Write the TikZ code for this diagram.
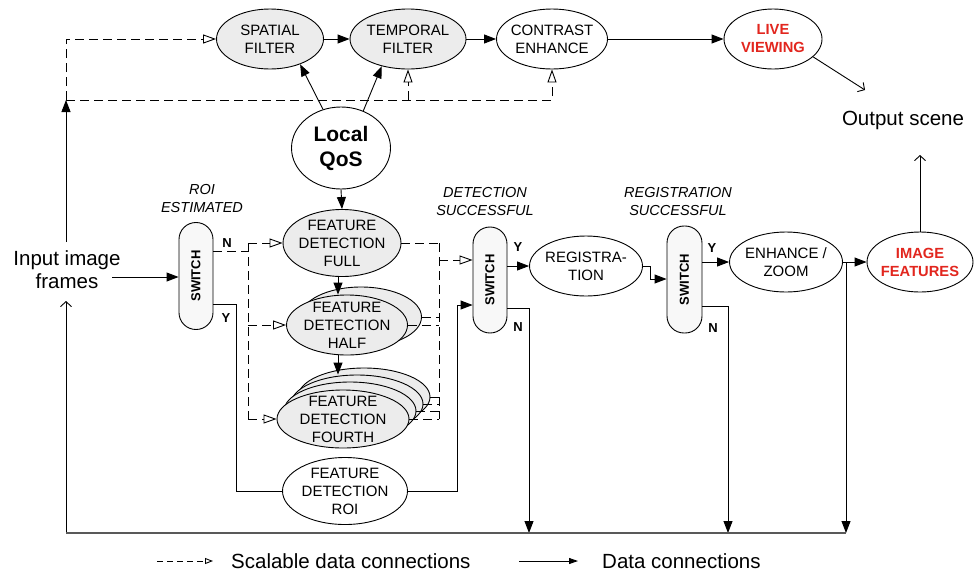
\documentclass[tikz,border=0pt]{standalone}
\usepackage{fontspec}
\setmainfont{Liberation Sans}
\usetikzlibrary{shapes.geometric,arrows.meta,calc}
\definecolor{hlred}{RGB}{226,38,30}
\definecolor{procfill}{RGB}{236,236,236}
\definecolor{swfill}{RGB}{248,248,248}
\begin{document}
\begin{tikzpicture}[x=1pt,y=-1pt,
  every node/.style={inner sep=0pt},
  proc/.style={ellipse, draw, line width=0.9pt, fill=white},
  grayproc/.style={proc, fill=procfill},
  switchbox/.style={draw, line width=0.9pt, fill=swfill, rounded corners=16.9pt,
    minimum width=34pt, minimum height=107pt,
    label={[font=\bfseries\fontsize{13}{13}\selectfont, rotate=90]center:SWITCH}},
  nodetext/.style={font=\fontsize{15}{18}\selectfont, align=center},
  redtext/.style={font=\bfseries\fontsize{14.7}{18}\selectfont, align=center, text=hlred},
  condtext/.style={font=\itshape\fontsize{14.5}{18}\selectfont, align=center},
  yntext/.style={font=\bfseries\fontsize{13}{13}\selectfont},
  bigtext/.style={font=\fontsize{20.5}{23}\selectfont, align=center},
  pline/.style={line width=0.9pt},
  dline/.style={line width=0.9pt, dash pattern=on 9pt off 5pt},
  data/.style={pline, -{Triangle[length=12pt,width=9pt]}},
  scal/.style={dline, -{Triangle[open,length=13pt,width=9pt]}},
  outarrow/.style={pline, -{Straight Barb[length=5pt,width=11pt]}},
  busline/.style={line width=1.4pt, black!65}
]
\useasboundingbox (0,0) rectangle (976,571);

% ---------- top row: display path ----------
\node[grayproc, minimum width=107pt, minimum height=60pt,
  label={[nodetext]center:SPATIAL\\FILTER}] (spatial) at (270,39) {};
\node[grayproc, minimum width=116pt, minimum height=60pt,
  label={[nodetext]center:TEMPORAL\\FILTER}] (temporal) at (408,39) {};
\node[proc, minimum width=111pt, minimum height=60pt,
  label={[nodetext]center:CONTRAST\\ENHANCE}] (contrast) at (552,39) {};
\node[proc, minimum width=98pt, minimum height=60pt,
  label={[redtext]center:LIVE\\VIEWING}] (live) at (773,39) {};
\node[bigtext] (outscene) at (903,120) {Output scene};
\coordinate (livetip) at (865,90);
\coordinate (imgtip) at (920,155);

\draw[data] (spatial.east) -- (temporal.west);
\draw[data] (temporal.east) -- (contrast.west);
\draw[data] (contrast.east) -- (live.west);
\draw[outarrow] (live.-24) -- (livetip);

% ---------- quality-of-service controller ----------
\node[proc, minimum width=99pt, minimum height=82pt,
  label={[font=\bfseries\fontsize{21}{25}\selectfont, align=center]center:Local\\QoS}] (qos) at (341,148) {};
\draw[data] (qos.115) -- (spatial.-40);
\draw[data] (qos.59) -- (temporal.226);

% ---------- feature detection stages ----------
\node[grayproc, minimum width=118pt, minimum height=67pt,
  label={[nodetext]center:FEATURE\\DETECTION\\FULL}] (full) at (342,243) {};
\node[grayproc, minimum width=121pt, minimum height=60pt] (halfb) at (361,317) {};
\node[grayproc, minimum width=121pt, minimum height=60pt,
  label={[nodetext]center:FEATURE\\DETECTION\\HALF}] (half) at (347,325) {};
\node[grayproc, minimum width=132pt, minimum height=58pt] (fourthc) at (364,397) {};
\node[grayproc, minimum width=132pt, minimum height=58pt] (fourthb) at (357,404) {};
\node[grayproc, minimum width=132pt, minimum height=58pt] (fourtha) at (350,411) {};
\node[grayproc, minimum width=132pt, minimum height=58pt,
  label={[nodetext]center:FEATURE\\DETECTION\\FOURTH}] (fourth) at (343,419) {};
\node[proc, minimum width=125pt, minimum height=67pt,
  label={[nodetext]center:FEATURE\\DETECTION\\ROI}] (roi) at (345,491) {};

\coordinate (stackx) at (338,0);
\draw[data] (full.south -| stackx) -- (half.north -| stackx);
\draw[data] (half.south -| stackx) -- (fourthb.north -| stackx);
\draw[data] (qos.south) -- (full.north);

% ---------- switches ----------
\node[switchbox] (sw1) at (196,276) {};
\node[switchbox, minimum height=106pt] (sw2) at (490,280) {};
\node[switchbox, minimum width=35pt] (sw3) at (684.5,279.5) {};

\node[condtext] (roilab) at (202,198.5) {ROI\\ESTIMATED};
\node[condtext] (detlab) at (485,202) {DETECTION\\SUCCESSFUL};
\node[condtext] (reglab) at (678,202) {REGISTRATION\\SUCCESSFUL};

\node[yntext] (n1) at (227,243) {N};
\node[yntext] (y1) at (226,318) {Y};
\node[yntext] (y2) at (518,247) {Y};
\node[yntext] (n2) at (518,327) {N};
\node[yntext] (y3) at (712,248) {Y};
\node[yntext] (n3) at (713,328) {N};

% ---------- registration path ----------
\node[proc, minimum width=113pt, minimum height=60pt,
  label={[nodetext]center:REGISTRA-\\TION}] (reg) at (586,266) {};
\node[proc, minimum width=113pt, minimum height=60pt,
  label={[nodetext]center:ENHANCE /\\ZOOM}] (enh) at (786,262) {};
\node[proc, minimum width=106pt, minimum height=60pt,
  label={[redtext]center:IMAGE\\FEATURES}] (imgf) at (920,262) {};

% ---------- input ----------
\node[bigtext] (input) at (67,270) {Input image\\frames};
\coordinate (inarr) at (112,277);
\coordinate (intop) at (66,242);
\coordinate (busleft) at (66,100);
\coordinate (inlow) at (66,301);
\coordinate (botstart) at (66,533);
\coordinate (bot2) at (529,533);
\coordinate (bot3) at (728,533);
\coordinate (bot4) at (846,533);

\draw[data] (inarr) -- (sw1.west |- inarr);
\draw[data] (intop) -- (busleft);
\draw[outarrow] (botstart) -- (inlow);

% scalable feedback into the display filters
\draw[scal] (busleft) |- (spatial.west);
\draw[scal] (busleft) -| (contrast.south);
\draw[scal] (busleft -| temporal.south) -- (temporal.south);

% scalable fan-out to the detection stages
\coordinate (lbusN) at (248,251);
\draw[dline] (sw1.east |- lbusN) -- (lbusN);
\draw[dline] (full.west -| lbusN) -- (fourth.west -| lbusN);
\draw[scal] (full.west -| lbusN) -- (full.west);
\draw[scal] (half.west -| lbusN) -- (half.west);
\draw[scal] (fourth.west -| lbusN) -- (fourth.west);

% scalable fan-in to the detection switch
\coordinate (rbus) at (439,260);
\draw[dline] (full.east) -- (full.east -| rbus);
\draw[dline] (halfb.east) -- (halfb.east -| rbus);
\draw[dline] (half.east) -- (half.east -| rbus);
\draw[dline] (fourthc.east) -- (fourthc.east -| rbus);
\draw[dline] (fourthb.east) -- (fourthb.east -| rbus);
\draw[dline] (fourtha.east) -- (fourtha.east -| rbus);
\draw[dline] (fourth.east) -- (fourth.east -| rbus);
\draw[dline] (full.east -| rbus) -- (fourth.east -| rbus);
\draw[scal] (rbus) -- (sw2.west |- rbus);

% ROI path
\coordinate (y1out) at (236,304);
\draw[pline] (sw1.east |- y1out) -| (roi.west -| y1out) -- (roi.west);
\coordinate (roiup) at (457,305);
\draw[data] (roi.east) -| (roiup) -- (sw2.west |- roiup);

% detection / registration chain
\draw[data] (sw2.east |- reg.west) -- (reg.west);
\coordinate (regstep) at (650,279);
\draw[data] (reg.east) -| (regstep) -- (sw3.west |- regstep);
\draw[data] (sw3.east |- enh.west) -- (enh.west);
\draw[data] (enh.east) -- (imgf.west);
\draw[outarrow] (imgf.north) -- (imgtip);

% fall-back paths to the frame loop
\coordinate (n2out) at (529,308);
\coordinate (n3out) at (728,306);
\draw[data] (sw2.east |- n2out) -| (bot2);
\draw[data] (sw3.east |- n3out) -| (bot3);
\draw[data] (enh.east -| bot4) -- (bot4);
\draw[busline] (botstart) -- (bot4);

% ---------- legend ----------
\coordinate (lgA) at (157,561);
\coordinate (lgB) at (213,561);
\coordinate (lgC) at (519,561);
\coordinate (lgD) at (578,561);
\draw[pline, dash pattern=on 6pt off 4pt, -{Triangle[open,length=8pt,width=6pt]}] (lgA) -- (lgB);
\node[bigtext, anchor=west] (lgscal) at (231,561) {Scalable data connections};
\draw[pline, -{Triangle[length=9pt,width=6pt]}] (lgC) -- (lgD);
\node[bigtext, anchor=west] (lgdata) at (602,561) {Data connections};
\end{tikzpicture}
\end{document}
